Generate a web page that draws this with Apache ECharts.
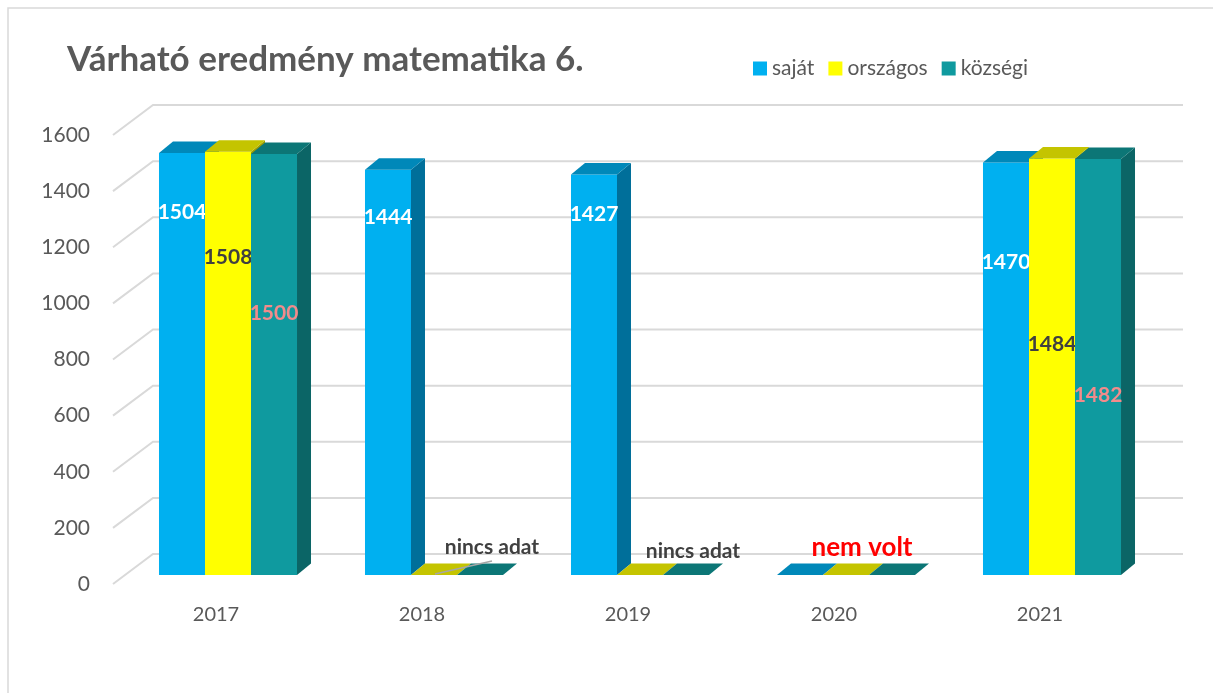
<!DOCTYPE html>
<html>
<head>
<meta charset="utf-8">
<script src="https://cdn.jsdelivr.net/npm/echarts@6/dist/echarts.min.js"></script>
<style>
  html, body { margin: 0; padding: 0; background: #fff; }
  #chart { width: 1213px; height: 693px; }
</style>
</head>
<body>
<div id="chart"></div>
<script>
// adatok
var categories = ['2017', '2018', '2019', '2020', '2021'];
var sajat = [1504, 1444, 1427, 0, 1470];
var orszagos = [1508, 0, 0, 0, 1484];
var kozsegi = [1500, 0, 0, 0, 1482];
var yTicks = [0, 200, 400, 600, 800, 1000, 1200, 1400, 1600];
var notes = ['', 'nincs adat', 'nincs adat', 'nem volt', ''];

// 3D hatás: mélység eltolás
var DX = 14, DY = 11.5;        // oszlop mélysége
var WALL_DX = 28, WALL_DY = 21; // hátsó fal az oszlopokhoz képest
var FRONT_DX = 12, FRONT_DY = 9; // első sík az oszlopokhoz képest
var GROUP = 0.67;

// címkék függőleges helye a hasáb tetejétől (px) - Excel 3D elhelyezés
var labelDrop = [
    [59, 47, 40, 0, 100],
    [105, 0, 0, 0, 186],
    [159, 0, 0, 0, 236]
];
var noteLayout = [null, { dx: 58, dy: -28, line: true }, { dx: 53, dy: -24 }, { dx: 16, dy: -27 }, null];

var myChart = echarts.init(document.getElementById('chart'));

function barRenderer(k, front, topC, side, labelColor) {
    return function (params, api) {
        var idx = api.value(0), val = api.value(1);
        var base = api.coord([idx, 0]);
        var top = api.coord([idx, val]);
        var band = api.size([1, 0])[0];
        var w = band * GROUP / 3;
        var x0 = base[0] - band * GROUP / 2 + k * w;
        var x1 = x0 + w;
        var yb = base[1], yt = top[1];
        var children = [];
        if (yb - yt > 0.5) {
            children.push({ type: 'rect', shape: { x: x0, y: yt, width: w, height: yb - yt }, style: { fill: front } });
            children.push({ type: 'polygon', shape: { points: [[x1, yt], [x1 + DX, yt - DY], [x1 + DX, yb - DY], [x1, yb]] }, style: { fill: side } });
        }
        children.push({ type: 'polygon', shape: { points: [[x0, yt], [x1, yt], [x1 + DX, yt - DY], [x0 + DX, yt - DY]] }, style: { fill: topC } });
        if (val > 0) {
            children.push({
                type: 'text',
                style: {
                    text: String(val), x: x0 + w / 2, y: yt + labelDrop[k][idx],
                    align: 'center', verticalAlign: 'middle',
                    fill: labelColor, font: 'bold 21px Lato'
                }
            });
        }
        return { type: 'group', children: children };
    };
}

function barSeries(name, k, data, front, topC, side, labelColor) {
    return {
        name: name,
        type: 'custom',
        xAxisIndex: 1,
        yAxisIndex: 1,
        itemStyle: { color: front },
        renderItem: barRenderer(k, front, topC, side, labelColor),
        data: data.map(function (v, i) { return [i, v]; }),
        z: 3
    };
}

myChart.setOption({
    animation: false,
    textStyle: { fontFamily: 'Lato' },
    title: {
        text: 'Várható eredmény matematika 6.',
        left: 62,
        top: 37,
        textStyle: { fontSize: 35, fontWeight: 'bold', color: '#595959', fontFamily: 'Lato' }
    },
    legend: {
        data: ['saját', 'országos', 'községi'],
        left: 753,
        top: 58,
        padding: 0,
        icon: 'rect',
        itemWidth: 14,
        itemHeight: 14,
        itemGap: 14,
        textStyle: { fontSize: 21, color: '#595959', fontFamily: 'Lato' }
    },
    graphic: [{
        type: 'rect',
        shape: { x: 8, y: 8, width: 1230, height: 720 },
        style: { fill: 'none', stroke: '#D9D9D9', lineWidth: 1.5 },
        silent: true
    }],
    grid: [
        // hátsó fal
        { left: 125 + WALL_DX, top: 126 - WALL_DY, width: 1030, height: 449 },
        // oszlopok síkja
        { left: 125, top: 126, width: 1030, height: 449 },
        // első sík (tengelyfeliratok)
        { left: 125 - FRONT_DX, top: 126 + FRONT_DY, width: 1030, height: 449 }
    ],
    xAxis: [
        { gridIndex: 0, type: 'category', data: categories, show: false },
        { gridIndex: 1, type: 'category', data: categories, show: false },
        {
            gridIndex: 2, type: 'category', data: categories,
            axisLine: { show: false }, axisTick: { show: false },
            axisLabel: { fontSize: 20, color: '#595959', margin: 21 }
        }
    ],
    yAxis: [
        { gridIndex: 0, type: 'value', min: 0, max: 1600, interval: 200, show: false },
        { gridIndex: 1, type: 'value', min: 0, max: 1600, interval: 200, show: false },
        {
            gridIndex: 2, type: 'value', min: 0, max: 1600, interval: 200,
            axisLine: { show: false }, axisTick: { show: false }, splitLine: { show: false },
            axisLabel: {
                fontSize: 21, color: '#595959', margin: 23,
                formatter: function (v) { return String(v); }
            }
        }
    ],
    series: [
        {
            type: 'custom',
            xAxisIndex: 0,
            yAxisIndex: 0,
            silent: true,
            z: 1,
            data: yTicks.map(function (v) { return [0, v]; }),
            renderItem: function (params, api) {
                var cs = params.coordSys;
                var y = api.coord([0, api.value(1)])[1];
                return {
                    type: 'polyline',
                    shape: { points: [[cs.x - WALL_DX - FRONT_DX, y + WALL_DY + FRONT_DY], [cs.x, y], [cs.x + cs.width, y]] },
                    style: { stroke: '#D9D9D9', lineWidth: 2, fill: null }
                };
            }
        },
        barSeries('saját', 0, sajat, '#00B0F0', '#0088B9', '#006F9A', '#FFFFFF'),
        barSeries('országos', 1, orszagos, '#FFFF00', '#C4C400', '#A0A000', '#404040'),
        barSeries('községi', 2, kozsegi, '#0F9A9F', '#0C7676', '#0B6566', '#F28B8B'),
        {
            type: 'custom',
            xAxisIndex: 1,
            yAxisIndex: 1,
            silent: true,
            z: 5,
            data: categories.map(function (c, i) { return [i, 0]; }),
            renderItem: function (params, api) {
                var i = params.dataIndex;
                var lay = noteLayout[i];
                if (!notes[i] || !lay) return null;
                var p = api.coord([i, 0]);
                var red = notes[i] === 'nem volt';
                var children = [{
                    type: 'text',
                    style: {
                        text: notes[i], x: p[0] + lay.dx, y: p[1] + lay.dy,
                        align: 'center', verticalAlign: 'middle',
                        fill: red ? '#FF0000' : '#404040',
                        font: red ? 'bold 26px Lato' : 'bold 21px Lato'
                    }
                }];
                if (lay.line) {
                    children.unshift({
                        type: 'line',
                        shape: { x1: p[0] + 1, y1: p[1] - 1, x2: p[0] + lay.dx, y2: p[1] - 14 },
                        style: { stroke: '#A6A6A6', lineWidth: 1.5 }
                    });
                }
                return { type: 'group', children: children };
            }
        }
    ]
});
</script>
</body>
</html>
